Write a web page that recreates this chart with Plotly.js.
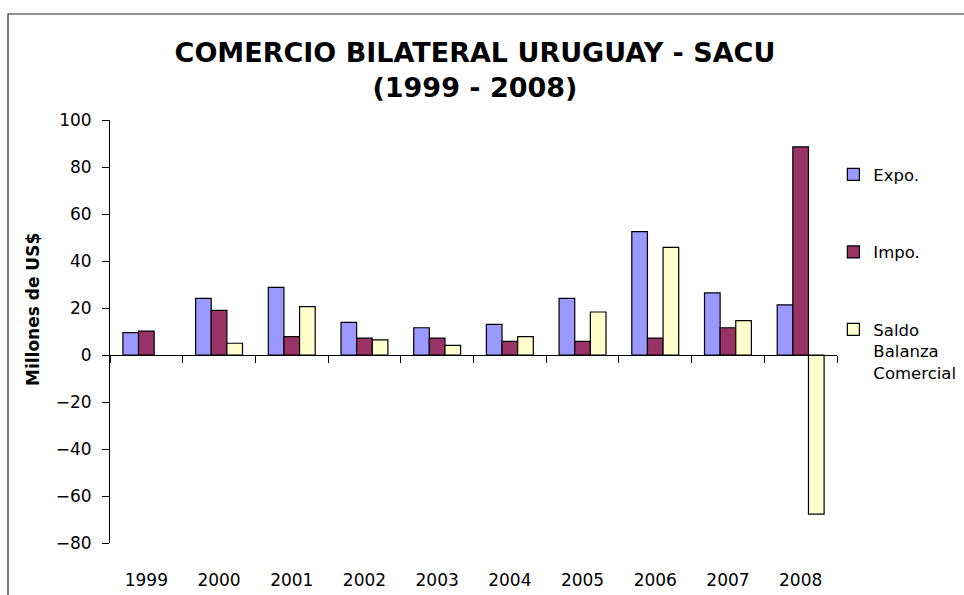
<!DOCTYPE html>
<html>
<head>
<meta charset="utf-8">
<script src="https://cdn.plot.ly/plotly-3.0.1.min.js"></script>
<style>
  html, body { margin: 0; padding: 0; background: #fff; }
  #chart { width: 964px; height: 595px; }
</style>
</head>
<body>
<div id="chart"></div>
<script>
const years = ["1999", "2000", "2001", "2002", "2003", "2004", "2005", "2006", "2007", "2008"];
const expo  = [9.5, 24.1, 28.8, 13.9, 11.6, 13.0, 24.1, 52.5, 26.4, 21.3];
const impo  = [10.2, 19.0, 7.8, 7.2, 7.2, 5.8, 5.8, 7.2, 11.6, 88.6];
const saldo = [null, 5.0, 20.6, 6.4, 4.1, 7.8, 18.3, 45.8, 14.6, -67.7];
const yTicks = [-80, -60, -40, -20, 0, 20, 40, 60, 80, 100];
const yTickText = ["\u221280", "\u221260", "\u221240", "\u221220", "0", "20", "40", "60", "80", "100"];

const FONT = "DejaVu Sans, Verdana, sans-serif";
const outline = { color: "#000000", width: 1.2 };

const traces = [
  { type: "bar", name: "Expo.", x: years, y: expo, legendgroup: "a",
    marker: { color: "#9999FF", line: outline } },
  { type: "bar", name: "Impo.", x: years, y: impo, legendgroup: "b",
    marker: { color: "#993366", line: outline } },
  { type: "bar", name: "Saldo<br>Balanza<br>Comercial", x: years, y: saldo, legendgroup: "c",
    marker: { color: "#FFFFCC", line: outline } },
  // invisible trace for the boundary ticks along the zero line
  { type: "bar", x: years, y: years.map(() => null), xaxis: "x2", showlegend: false, hoverinfo: "skip" }
];

const layout = {
  width: 964, height: 595,
  margin: { l: 110, r: 127, t: 120, b: 52, autoexpand: false },
  paper_bgcolor: "#ffffff", plot_bgcolor: "#ffffff",
  font: { family: FONT, size: 17, color: "#000" },
  barmode: "group",
  bargap: 0.355,
  bargroupgap: 0,
  title: {
    text: "COMERCIO BILATERAL URUGUAY - SACU<br>(1999 - 2008)",
    font: { family: FONT, size: 27, weight: "bold", color: "#000" },
    x: 0.502, xanchor: "center", xref: "paper",
    y: 1 - 62 / 595, yanchor: "middle", yref: "container"
  },
  xaxis: {
    type: "category",
    range: [-0.5, 9.5],
    showline: false, showgrid: false, zeroline: false,
    ticks: "outside", ticklen: 22, tickcolor: "rgba(0,0,0,0)",
    tickfont: { family: FONT, size: 17, color: "#000" },
    fixedrange: true
  },
  xaxis2: {
    type: "category",
    overlaying: "x",
    anchor: "free",
    position: 80 / 180,
    range: [-0.5, 9.5],
    showline: true, linecolor: "#000", linewidth: 1,
    showgrid: false, zeroline: false,
    ticks: "outside", tickson: "boundaries", ticklen: 7, tickcolor: "#000", tickwidth: 1,
    showticklabels: false
  },
  yaxis: {
    range: [-80, 100],
    tickvals: yTicks, ticktext: yTickText,
    showline: true, linecolor: "#000", linewidth: 1,
    showgrid: false, zeroline: false,
    ticks: "outside", ticklen: 7, tickcolor: "#000", tickwidth: 1,
    ticklabelstandoff: 7,
    tickfont: { family: FONT, size: 17, color: "#000" },
    fixedrange: true
  },
  annotations: [
    { text: "Millones de US$", textangle: -90, showarrow: false,
      xref: "paper", yref: "paper", x: (33 - 110) / 727, y: (543 - 310) / 423,
      xanchor: "center", yanchor: "middle",
      font: { family: FONT, size: 17, weight: "bold", color: "#000" } }
  ],
  legend: {
    x: 0.995, xanchor: "left", xref: "paper",
    y: 0.912, yanchor: "top",
    font: { family: FONT, size: 16.5, color: "#000" },
    tracegroupgap: 53,
    valign: "top",
    bgcolor: "rgba(0,0,0,0)",
    traceorder: "grouped"
  },
  shapes: [
    { type: "path", xref: "paper", yref: "paper",
      path: "M 1.18,1.2506 L -0.1403,1.2506 L -0.1403,-0.13",
      line: { color: "#222", width: 1.2 } }
  ],
  showlegend: true
};

Plotly.newPlot("chart", traces, layout, { displayModeBar: false, staticPlot: true });
</script>
</body>
</html>
